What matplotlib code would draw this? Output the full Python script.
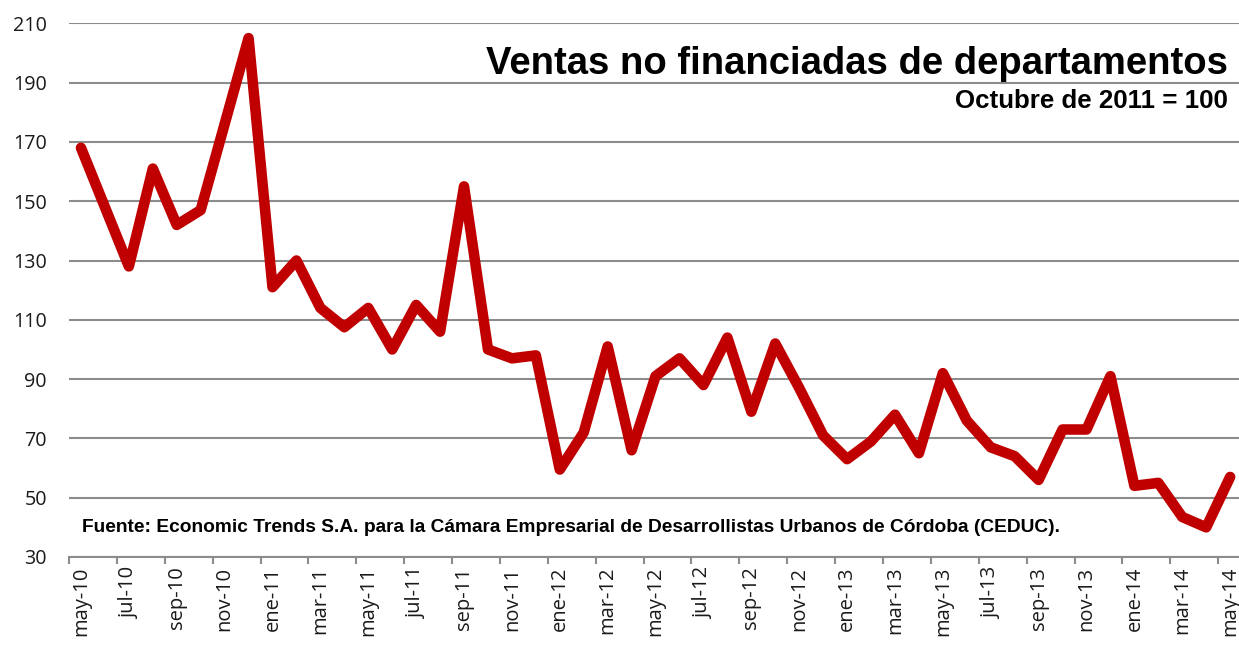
import matplotlib
matplotlib.use("Agg")
import matplotlib.pyplot as plt
from matplotlib.ticker import FixedLocator

MONTHS = ["ene", "feb", "mar", "abr", "may", "jun",
          "jul", "ago", "sep", "oct", "nov", "dic"]

# may-10 .. may-14, index Octubre 2011 = 100
VALUES = [
    168, 148, 128, 161, 142, 147, 176, 205,
    121, 130, 114, 107.5, 114, 100, 115, 106, 155, 100, 97, 98,
    59.5, 72, 101, 66, 91, 97, 88, 104, 79, 102, 87, 71,
    63, 69, 78, 65, 92, 76, 67, 64, 56, 73, 73, 91,
    54, 55, 43.5, 40, 57,
]

LABELS = []
m, y = 4, 10
for _ in VALUES:
    LABELS.append(f"{MONTHS[m]}-{y:02d}")
    m += 1
    if m == 12:
        m, y = 0, y + 1

Y_TICKS = list(range(30, 211, 20))

RED = "#c00000"
GRID = "#8c8c8c"
INK = "#1a1a1a"

fig = plt.figure(figsize=(12.39, 6.46), dpi=100)
ax = fig.add_axes([69 / 1239, 1 - 557 / 646, 1 - 69 / 1239, (557 - 23.3) / 646])

xs = list(range(len(VALUES)))
ax.plot(xs, VALUES, color=RED, lw=7.6, solid_joinstyle="round",
        solid_capstyle="round", zorder=3)

ax.set_ylim(30, 210)
ax.set_xlim(-0.5, 48.37)
ax.set_yticks(Y_TICKS)
ax.grid(True, axis="y", color=GRID, lw=1.5, zorder=0)
ax.set_axisbelow(True)

for side in ["top", "right", "left"]:
    ax.spines[side].set_visible(False)
ax.spines["bottom"].set_color(GRID)
ax.spines["bottom"].set_linewidth(1.5)

ax.set_xticks(xs[::2])
ax.set_xticklabels(LABELS[::2], rotation=90, fontsize=14.5, color=INK,
                   family="Open Sans")
ax.xaxis.set_minor_locator(FixedLocator([i - 0.5 for i in range(0, len(VALUES) + 1, 2)]))
ax.tick_params(axis="x", which="major", length=0, pad=7)
ax.tick_params(axis="x", which="minor", length=5, width=1.5, color=GRID)
ax.tick_params(axis="y", length=0, pad=16, labelsize=14.2, labelcolor=INK)
for t in ax.get_yticklabels():
    t.set_family("Open Sans")

fig.text(1228 / 1239, 1 - 64 / 646, "Ventas no financiadas de departamentos",
         ha="right", va="center", fontsize=27.5, fontweight="bold",
         family="Liberation Sans", color="black")
fig.text(1228 / 1239, 1 - 101 / 646, "Octubre de 2011 = 100",
         ha="right", va="center", fontsize=18.6, fontweight="bold",
         family="Liberation Sans", color="black")
fig.text(82 / 1239, 1 - 527 / 646,
         "Fuente: Economic Trends S.A. para la Cámara Empresarial de Desarrollistas Urbanos de Córdoba (CEDUC).",
         ha="left", va="center", fontsize=13.8, fontweight="bold",
         family="Liberation Sans", color="black")

fig.savefig("out.png", dpi=100)
